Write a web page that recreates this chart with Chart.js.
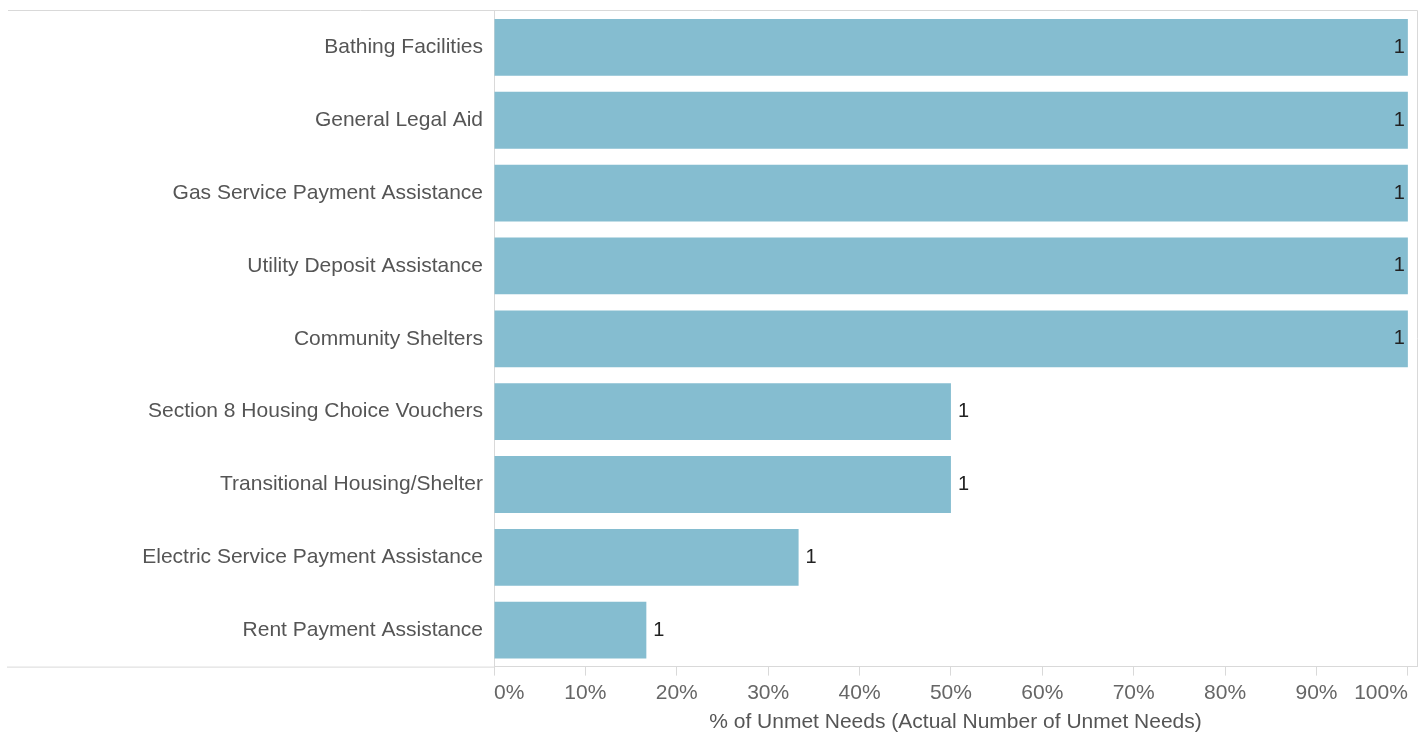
<!DOCTYPE html>
<html>
<head>
<meta charset="utf-8">
<script src="https://cdn.jsdelivr.net/npm/chart.js"></script>
<style>
  html, body { margin: 0; padding: 0; background: #fff; }
  #wrap { width: 1426px; height: 732px; position: relative; }
</style>
</head>
<body>
<div id="wrap"><canvas id="chart"></canvas></div>
<script>
// Categorias y valores
const categories = [
    'Bathing Facilities',
    'General Legal Aid',
    'Gas Service Payment Assistance',
    'Utility Deposit Assistance',
    'Community Shelters',
    'Section 8 Housing Choice Vouchers',
    'Transitional Housing/Shelter',
    'Electric Service Payment Assistance',
    'Rent Payment Assistance'
];
const pctUnmet = [1, 1, 1, 1, 1, 0.5, 0.5, 0.3333, 0.1667];
const unmetCounts = [1, 1, 1, 1, 1, 1, 1, 1, 1];
const xTicks = [0, 0.1, 0.2, 0.3, 0.4, 0.5, 0.6, 0.7, 0.8, 0.9, 1];

const FONT = 'Liberation Sans, Arial, sans-serif';

// Marco estilo Tableau: linea superior, derecha y base extendida
const framePlugin = {
    id: 'frame',
    afterDraw(chart) {
        const { ctx, chartArea } = chart;
        ctx.save();
        ctx.strokeStyle = '#d9d9d9';
        ctx.lineWidth = 1;
        ctx.beginPath();
        ctx.moveTo(8, chartArea.top - 0.5);
        ctx.lineTo(chartArea.right + 0.5, chartArea.top - 0.5);
        ctx.lineTo(chartArea.right + 0.5, chartArea.bottom);
        ctx.moveTo(7, chartArea.bottom + 0.5);
        ctx.lineTo(chartArea.left, chartArea.bottom + 0.5);
        ctx.stroke();
        ctx.restore();
    }
};

// Etiquetas con el numero real de necesidades
const countLabels = {
    id: 'countLabels',
    afterDatasetsDraw(chart) {
        const { ctx } = chart;
        const meta = chart.getDatasetMeta(0);
        ctx.save();
        ctx.font = '20px ' + FONT;
        ctx.fillStyle = '#222';
        ctx.textBaseline = 'middle';
        meta.data.forEach((bar, i) => {
            const full = pctUnmet[i] >= 1;
            ctx.textAlign = full ? 'right' : 'left';
            const x = full ? bar.x - 3 : bar.x + 7;
            ctx.fillText(String(unmetCounts[i]), x, bar.y);
        });
        ctx.restore();
    }
};

new Chart(document.getElementById('chart'), {
    type: 'bar',
    data: {
        labels: categories,
        datasets: [{
            data: pctUnmet,
            backgroundColor: '#85bdd0',
            borderWidth: 0,
            categoryPercentage: 1,
            barPercentage: 0.78
        }]
    },
    options: {
        indexAxis: 'y',
        responsive: true,
        maintainAspectRatio: false,
        animation: false,
        layout: { padding: { top: 11, right: 9, bottom: 0, left: 0 } },
        plugins: {
            legend: { display: false },
            tooltip: { enabled: false }
        },
        scales: {
            x: {
                min: 0,
                max: 1.01,
                afterBuildTicks(scale) {
                    scale.ticks = xTicks.map(v => ({ value: v }));
                },
                grid: {
                    drawOnChartArea: false,
                    drawTicks: true,
                    tickLength: 9,
                    color: '#d9d9d9'
                },
                border: { color: '#d9d9d9' },
                ticks: {
                    align: 'inner',
                    padding: 5,
                    color: '#666',
                    font: { family: FONT, size: 21 },
                    callback: v => Math.round(v * 100) + '%'
                },
                title: {
                    display: true,
                    text: '% of Unmet Needs (Actual Number of Unmet Needs)',
                    color: '#555',
                    font: { family: FONT, size: 21 },
                    padding: { top: -1, bottom: -3 }
                }
            },
            y: {
                afterFit(scale) {
                    scale.width = 494;
                    scale.paddingTop = 0;
                    scale.paddingBottom = 0;
                },
                grid: { display: false, drawTicks: false },
                border: { color: '#d9d9d9' },
                ticks: {
                    padding: 11,
                    color: '#555',
                    font: { family: FONT, size: 21 }
                }
            }
        }
    },
    plugins: [framePlugin, countLabels]
});
</script>
</body>
</html>
